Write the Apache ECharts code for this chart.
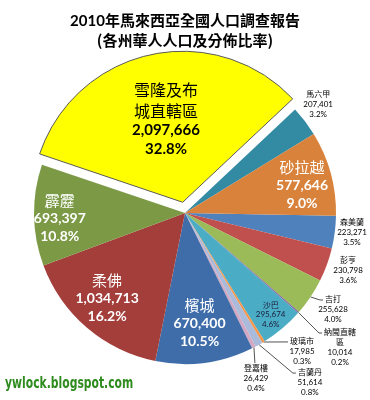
<!DOCTYPE html>
<html><head><meta charset="utf-8">
<script src="https://cdn.jsdelivr.net/npm/echarts@6/dist/echarts.min.js"></script>
<style>html,body{margin:0;padding:0;background:#fff}#c{width:370px;height:400px}</style>
</head><body><div id="c"></div>
<script>
// ---- data ----
const titleText = '2010年馬來西亞全國人口調查報告';
const subtitleText = '(各州華人人口及分佈比率)';
const watermarkText = 'ywlock.blogspot.com';

// states, in clockwise order starting just below 3 o'clock
const states = ['森美蘭', '彭亨', '吉打', '納閩直轄區', '沙巴', '玻璃市', '吉蘭丹', '登嘉樓',
                '檳城', '柔佛', '霹靂', '雪隆及布城直轄區', '馬六甲', '砂拉越'];
const chinesePopulation = [223271, 230798, 255628, 10014, 295674, 17985, 51614, 26429,
                           670400, 1034713, 693397, 2097666, 207401, 577646];
const explodedState = '雪隆及布城直轄區';

// ---- styles / layout ----
const sliceColors = ['#4F81BD', '#C0504D', '#9BBB59', '#8064A2', '#4BACC6', '#F79646', '#A9BADB', '#D2A8C2',
                     '#3F6DAA', '#A33E3B', '#7C9A45', '#FFFF00', '#338AA3', '#D8823B'];
// label placement: r = distance from centre as a fraction of the radius, da = angular shift (deg)
const placement = {
  '森美蘭':   {r: 1.113, da: 0.8, line: null, style: 's'},
  '彭亨':     {r: 1.144, da: 0.8, line: null, style: 's'},
  '吉打':     {r: 1.168, da: 0.8, line: 'left', style: 's'},
  '納閩直轄區': {r: 1.357, da: 0.4, line: 'left', style: 's'},
  '沙巴':     {r: 0.88, da: 0, line: null, style: 'd'},
  '玻璃市':   {r: 1.198, da: 9, line: 'left', style: 's'},
  '吉蘭丹':   {r: 1.392, da: 7.1, line: 'left', style: 's'},
  '登嘉樓':   {r: 1.19, da: -3.9, line: 'top', style: 's'},
  '檳城':     {r: 0.735, da: 0, line: null, style: 'b'},
  '柔佛':     {r: 0.764, da: -2, line: null, style: 'b'},
  '霹靂':     {r: 0.83, da: 1.4, line: null, style: 'b'},
  '雪隆及布城直轄區': {r: 0.56, da: 0, line: null, style: 'y'},
  '馬六甲':   {r: 1.139, da: 1.9, line: null, style: 's'},
  '砂拉越':   {r: 0.797, da: -1.8, line: null, style: 'b'}
};
const R = 151;
const CX = 185, CY = 213;
const START = -1;
const EXPLODE = 11;
const CJK = '"Noto Sans CJK TC", "Noto Sans CJK SC", sans-serif';
const NUM = 'Lato, "Noto Sans", sans-serif';
const smallSize = 8;

const total = chinesePopulation.reduce((a, b) => a + b, 0);
// mid angle of each slice (math degrees), following the pie's clockwise order
const midAngles = [];
(function () {
  let acc = 0;
  chinesePopulation.forEach(v => {
    midAngles.push(START - (acc + v / 2) / total * 360);
    acc += v;
  });
})();

function nameLines(name) { return name.match(/.{1,4}/g); }

function fmt(p) {
  const s = placement[p.name].style;
  const parts = nameLines(p.name).map(l => '{' + s + 'n|' + l + '}');
  parts.push('{' + s + 'v|' + p.value.toLocaleString('en-US') + '}');
  parts.push('{' + s + 'v|' + (p.value / total * 100).toFixed(1) + '%}');
  return parts.join('\n');
}

function rs(family, size, color, lh, bold) {
  return {fontFamily: family, fontSize: size, color: color, lineHeight: lh, align: 'center',
          fontWeight: bold ? 'bold' : 'normal'};
}

const option = {
  backgroundColor: '#fff',
  animation: false,
  title: {
    text: titleText, subtext: subtitleText, left: 'center', top: 7, itemGap: 1,
    textStyle: {fontSize: 15, fontWeight: 'bold', color: '#000', fontFamily: NUM + ',' + CJK, lineHeight: 18},
    subtextStyle: {fontSize: 15, fontWeight: 'bold', color: '#000', fontFamily: CJK, lineHeight: 18}
  },
  graphic: [{
    type: 'text', left: 5, top: 377, scaleX: 0.8,
    style: {
      text: watermarkText, fill: '#2E8B1E',
      font: 'bold 15px "DejaVu Sans Condensed", "DejaVu Sans", sans-serif',
      shadowColor: 'rgba(0,0,0,0.45)', shadowOffsetX: 1.5, shadowOffsetY: 1.5,
      textShadowColor: 'rgba(0,0,0,0.45)', textShadowOffsetX: 1.5, textShadowOffsetY: 1.5
    }
  }],
  series: [{
    type: 'pie',
    center: [CX, CY],
    radius: R,
    startAngle: START,
    clockwise: true,
    selectedMode: 'single',
    selectedOffset: EXPLODE,
    avoidLabelOverlap: false,
    label: {
      show: true, position: 'outside', formatter: fmt,
      rich: {
        bn: rs(CJK, 15, '#fff', 19, false),
        bv: rs(NUM, 14, '#fff', 18, true),
        yn: rs(CJK, 16, '#000', 21, false),
        yv: rs(NUM, 15, '#000', 19, true),
        sn: rs(CJK, smallSize, '#000', 10, false),
        sv: rs(NUM, smallSize, '#000', 10, false),
        dn: rs(CJK, smallSize, '#1c1c3a', 10, false),
        dv: rs(NUM, smallSize, '#1c1c3a', 10, false)
      }
    },
    labelLine: {show: true, length: 10, length2: 5, lineStyle: {color: '#262626', width: 0.8}},
    labelLayout: function (p) {
      const i = p.dataIndex;
      const name = states[i];
      if (name === explodedState) return {};
      const pl = placement[name];
      const m = midAngles[i] * Math.PI / 180;
      const a = (midAngles[i] + pl.da) * Math.PI / 180;
      const e = [CX + Math.cos(m) * R, CY - Math.sin(m) * R];
      const x = CX + Math.cos(a) * R * pl.r;
      const y = CY - Math.sin(a) * R * pl.r;
      const h = p.labelRect.height;
      let line = [e, e];
      if (pl.line === 'left') {
        const firstW = nameLines(name)[0].length * smallSize;
        const lx = x - firstW / 2 - 2, ly = y - h / 2 + 5;
        line = [e, [lx - 3, ly], [lx, ly]];
      } else if (pl.line === 'top') {
        line = [e, [e[0] + 1, y - h / 2 - 1]];
      }
      return {x: x, y: y, align: 'center', verticalAlign: 'middle', labelLinePoints: line};
    },
    data: states.map((name, i) => {
      const item = {
        name: name, value: chinesePopulation[i],
        itemStyle: {color: sliceColors[i]},
        labelLine: {lineStyle: {opacity: placement[name].line ? 1 : 0}}
      };
      if (name === explodedState) {
        item.selected = true;
        item.itemStyle.borderColor = '#5a5a5a';
        item.itemStyle.borderWidth = 1;
        item.label = {position: 'inside', padding: [0, 0, 13, 0]};
        item.labelLine = {show: false};
        item.select = {itemStyle: {color: sliceColors[i], borderColor: '#5a5a5a', borderWidth: 1}};
      }
      return item;
    })
  }]
};

const chart = echarts.init(document.getElementById('c'));
chart.setOption(option);
chart.setOption(option);
</script></body></html>
